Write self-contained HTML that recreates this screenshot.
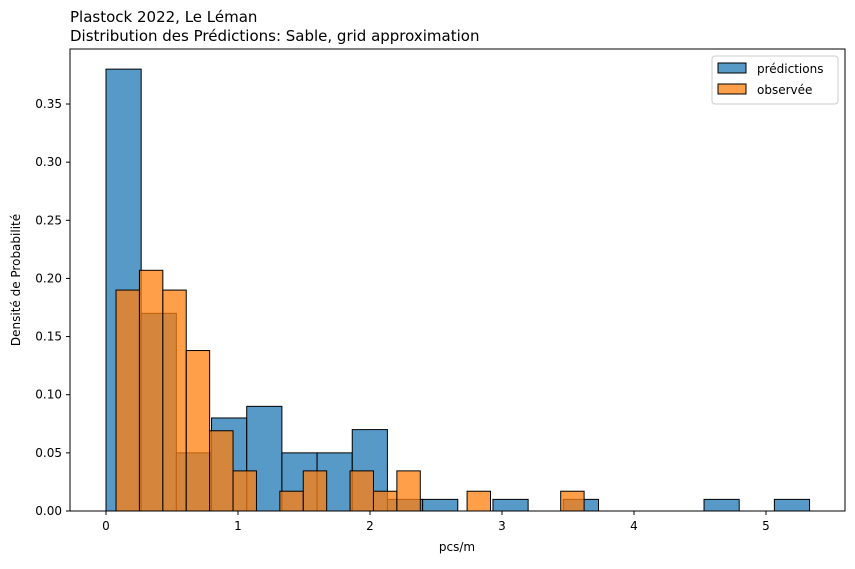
<!DOCTYPE html>
<html><head><meta charset="utf-8"><style>
body{margin:0;background:#fff;}
svg{font-family:"DejaVu Sans","Liberation Sans",sans-serif;}
</style></head><body>
<svg id="chart" width="855" height="564" viewBox="0 0 855 564">
<text x="70" y="22" font-size="15">Plastock 2022, Le Léman</text>
<text x="70" y="41" font-size="15">Distribution des Prédictions: Sable, grid approximation</text>
<g id="bars"></g>
<rect x="70" y="49" width="775" height="462" fill="none" stroke="#000" stroke-width="1"/>
<g id="axes"></g>
<text x="457" y="551" font-size="12" text-anchor="middle">pcs/m</text>
<text transform="translate(20,280) rotate(-90)" font-size="12" text-anchor="middle">Densité de Probabilité</text>
<g>
<rect x="712" y="56" width="126" height="48" fill="#fff" stroke="#ccc" rx="3"/>
<rect x="718" y="63" width="28" height="10" fill="#1f77b4" fill-opacity="0.75" stroke="#000"/>
<text x="757" y="73" font-size="12">prédictions</text>
<rect x="718" y="84" width="28" height="10" fill="#ff7f0e" fill-opacity="0.75" stroke="#000"/>
<text x="757" y="94" font-size="12">observée</text>
</g>
</svg>
<script>
const predStart = 0;
const predWidth = 0.2665;
const predValues = [0.38,0.17,0.05,0.08,0.09,0.05,0.05,0.07,0.01,0.01,0,0.01,0,0.01,0,0,0,0.01,0,0.01];
const obsStart = 0.076;
const obsWidth = 0.1773;
const obsValues = [0.19,0.207,0.19,0.138,0.069,0.0345,0,0.017,0.0345,0,0.0345,0.017,0.0345,0,0,0.017,0,0,0,0.017];
const xTicks = [0,1,2,3,4,5];
const yTicks = [0,0.05,0.10,0.15,0.20,0.25,0.30,0.35];
const yTickLabels = ["0.00","0.05","0.10","0.15","0.20","0.25","0.30","0.35"];

const NS = "http://www.w3.org/2000/svg";
const xS = v => 106 + v * 132;
const yS = v => 511 - v * 1162.8;
const bars = document.getElementById('bars');
const axes = document.getElementById('axes');

function drawSeries(start, w, vals, color, name) {
  vals.forEach((v, i) => {
    if (v <= 0) return;
    const r = document.createElementNS(NS, 'rect');
    const x0 = xS(start + i * w), x1 = xS(start + (i + 1) * w);
    r.setAttribute('x', x0); r.setAttribute('width', x1 - x0);
    r.setAttribute('y', yS(v)); r.setAttribute('height', yS(0) - yS(v));
    r.setAttribute('fill', color); r.setAttribute('fill-opacity', '0.75');
    r.setAttribute('stroke', '#000'); r.setAttribute('stroke-width', '1');
    
    
    bars.appendChild(r);
  });
}
drawSeries(predStart, predWidth, predValues, '#1f77b4', 'predictions');
drawSeries(obsStart, obsWidth, obsValues, '#ff7f0e', 'observed');

xTicks.forEach(t => {
  const l = document.createElementNS(NS, 'line');
  l.setAttribute('x1', xS(t)); l.setAttribute('x2', xS(t));
  l.setAttribute('y1', 511); l.setAttribute('y2', 515); l.setAttribute('stroke', '#000');
  
  
  axes.appendChild(l);
  const tx = document.createElementNS(NS, 'text');
  tx.setAttribute('x', xS(t)); tx.setAttribute('y', 530);
  tx.setAttribute('font-size', '12'); tx.setAttribute('text-anchor', 'middle');
  tx.textContent = t;
  
  
  axes.appendChild(tx);
});
yTicks.forEach((t, i) => {
  const l = document.createElementNS(NS, 'line');
  l.setAttribute('x1', 66); l.setAttribute('x2', 70);
  l.setAttribute('y1', yS(t)); l.setAttribute('y2', yS(t)); l.setAttribute('stroke', '#000');
  
  
  axes.appendChild(l);
  const tx = document.createElementNS(NS, 'text');
  tx.setAttribute('x', 62); tx.setAttribute('y', yS(t) + 4);
  tx.setAttribute('font-size', '12'); tx.setAttribute('text-anchor', 'end');
  tx.textContent = yTickLabels[i];
  
  
  axes.appendChild(tx);
});
</script>
</body></html>
